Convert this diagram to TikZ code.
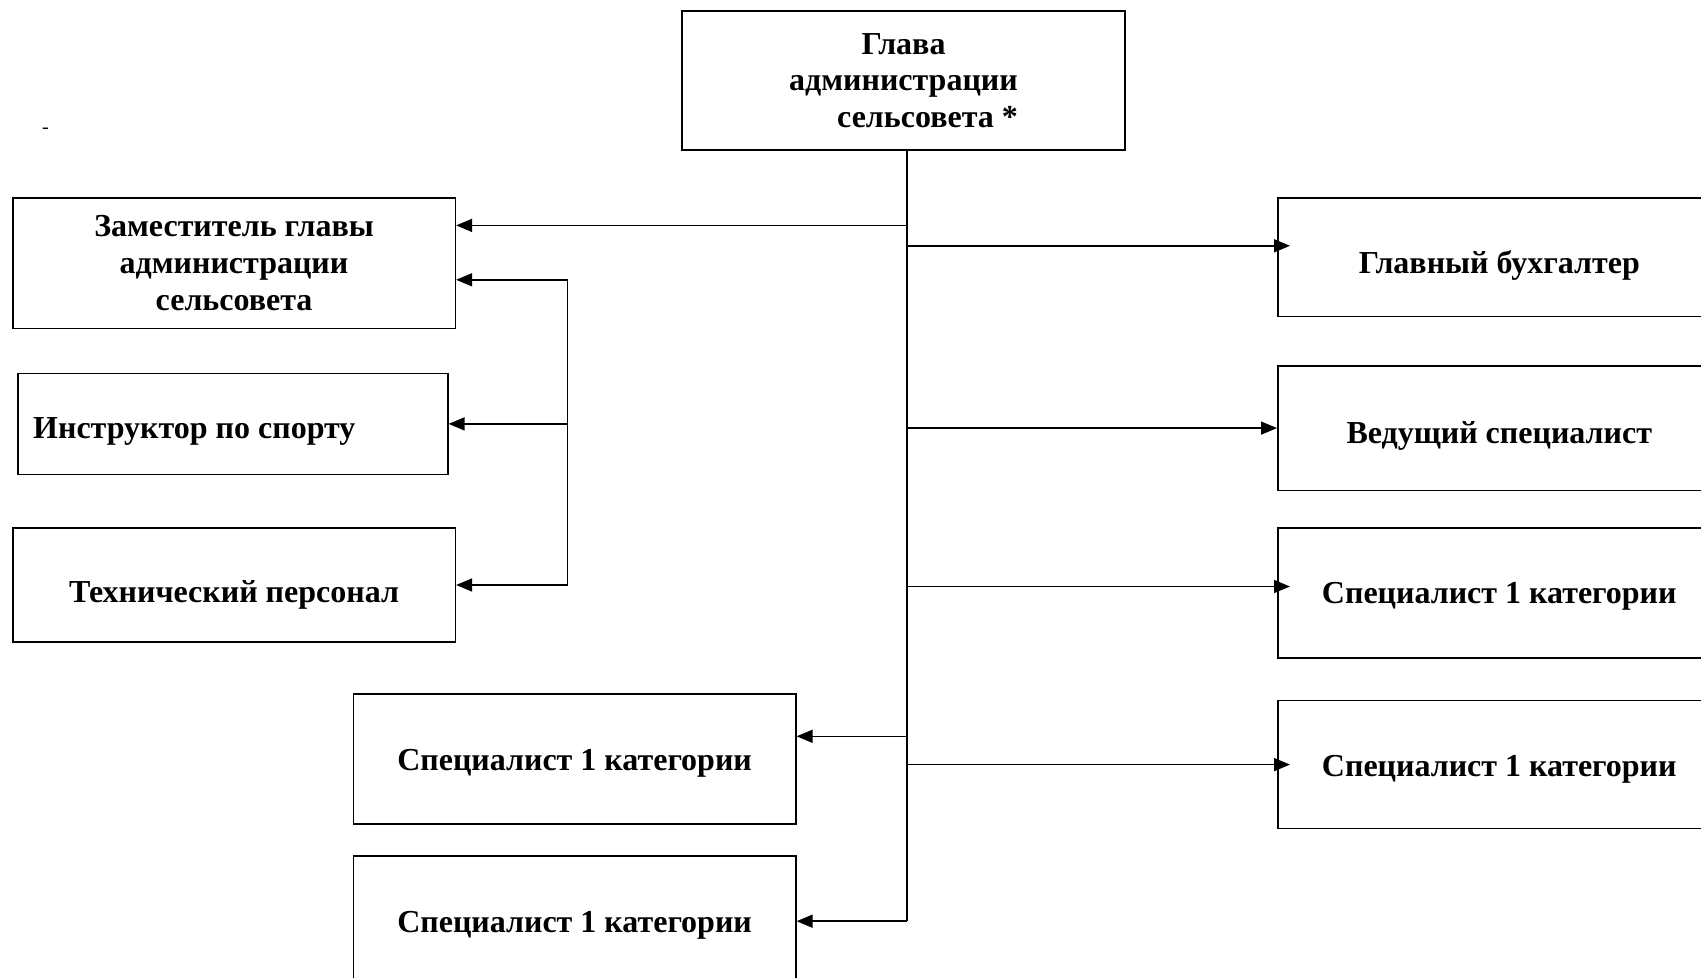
\documentclass[tikz,border=0pt]{standalone}
\usepackage{fontspec}
\setmainfont{Liberation Serif}
\usetikzlibrary{arrows.meta, positioning}

\begin{document}
\begin{tikzpicture}[
        x=1pt, y=1pt,
        post/.style={rectangle, draw, line width=0.8pt, align=center, inner sep=4pt, font=\bfseries\fontsize{16}{18.4}\selectfont},
        sunk/.style={text height=#1, text depth=4pt},
        arrow/.style={-{Triangle[length=8pt, width=6.5pt]}, line width=0.8pt},
        link/.style={line width=0.8pt}
        ]
        \useasboundingbox (0,0) rectangle (850.5,-489);

        % Nodes
        \node (head) [post, minimum width=221.5pt, minimum height=69.5pt] at (451.75,-40.25) {Глава\\администрации\\\hspace*{24pt}сельсовета *};
        \node (deputy) [post, minimum width=221.25pt, minimum height=65.3pt, anchor=north west] at (6,-98.5) {Заместитель главы\\администрации\\сельсовета};
        \node (instr) [post, sunk=19pt, minimum width=214.8pt, minimum height=50.5pt, inner xsep=7.5pt, text width=199.8pt, align=flush left, below=21.7pt of deputy.south west, anchor=north west, xshift=2.7pt] {Инструктор по спорту};
        \node (tech) [post, sunk=21pt, minimum width=221.25pt, minimum height=57pt, below=26pt of instr.south west, anchor=north west, xshift=-2.7pt] {Технический персонал};
        \node (chief) [post, sunk=20.5pt, minimum width=221.5pt, minimum height=59.2pt, anchor=north west] at (638.5,-98.7) {Главный бухгалтер};
        \node (lead) [post, sunk=19.5pt, minimum width=221.5pt, minimum height=62.3pt, below=23.8pt of chief] {Ведущий специалист};
        \node (specR1) [post, sunk=14pt, minimum width=221.5pt, minimum height=65pt, below=18pt of lead] {Специалист 1 категории};
        \node (specR2) [post, sunk=15.5pt, minimum width=221.5pt, minimum height=64pt, below=20.5pt of specR1] {Специалист 1 категории};
        \node (specL1) [post, sunk=15.5pt, minimum width=221.2pt, minimum height=65.2pt, anchor=north west] at (176.3,-346.5) {Специалист 1 категории};
        \node (specL2) [post, sunk=15pt, minimum width=221.2pt, minimum height=65pt, below=15.2pt of specL1] {Специалист 1 категории};
        \node (dash) at (22.75,-65.5) {\fontsize{10}{10}\selectfont -};

        % Arrows from the head
        \coordinate (trunk) at ([xshift=1.75pt]head.south);
        \coordinate (trunkend) at (trunk |- specL2.east);
        \draw [link] (trunk) -- (trunkend);
        \draw [arrow] ([yshift=18.85pt]deputy.east -| trunk) -- ([yshift=18.85pt]deputy.east);
        \draw [arrow] ([yshift=5.8pt]chief.west -| trunk) -- ([xshift=6.5pt, yshift=5.8pt]chief.west);
        \draw [arrow] (trunk |- lead.west) -- (lead.west);
        \draw [arrow] ([yshift=3.25pt]specR1.west -| trunk) -- ([xshift=6.5pt, yshift=3.25pt]specR1.west);
        \draw [arrow] (trunk |- specR2.west) -- ([xshift=6.5pt]specR2.west);
        \draw [arrow] ([yshift=11.35pt]specL1.east -| trunk) -- ([yshift=11.35pt]specL1.east);
        \draw [arrow] (trunkend) -- (specL2.east);

        % Arrows from the deputy
        \coordinate (bus) at ([xshift=55.75pt, yshift=-8.35pt]deputy.east);
        \draw [arrow] (bus) -- ([yshift=-8.35pt]deputy.east);
        \draw [arrow] (bus) |- (instr.east);
        \draw [arrow] (bus) |- (tech.east);

    \end{tikzpicture}
\end{document}
